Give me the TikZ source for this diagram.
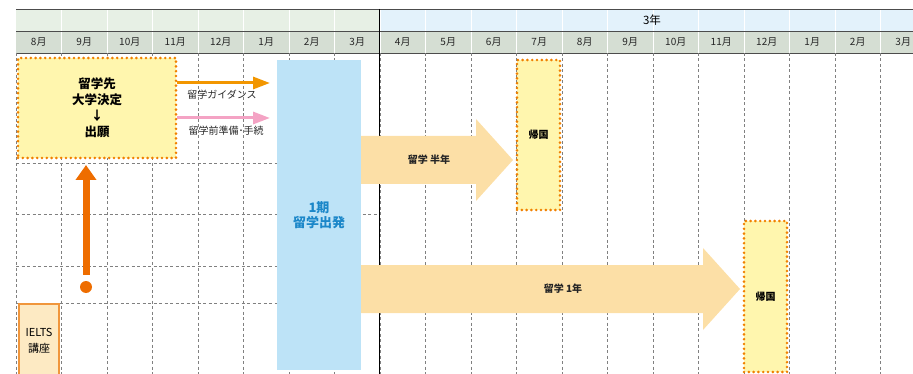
\documentclass[tikz,border=0pt]{standalone}
\usepackage{fontspec}
\setmainfont{Noto Sans CJK JP}
\usepackage{tikz}
\usetikzlibrary{arrows.meta}
\definecolor{hdrleft}{HTML}{E7F0E5}
\definecolor{hdrright}{HTML}{E3F2FB}
\definecolor{hdrmonth}{HTML}{D5DED3}
\definecolor{gridgray}{HTML}{808080}
\definecolor{planyellow}{HTML}{FFF6AE}
\definecolor{dotorange}{HTML}{F08000}
\definecolor{guideorange}{HTML}{F29600}
\definecolor{preppink}{HTML}{F4A3C4}
\definecolor{departblue}{HTML}{BDE3F7}
\definecolor{departtext}{HTML}{1B87C9}
\definecolor{riseorange}{HTML}{EE6D00}
\definecolor{ieltsfill}{HTML}{FDEAC3}
\definecolor{ieltsline}{HTML}{F0963C}
\definecolor{staypeach}{HTML}{FCDFA6}
\tikzset{
  gridline/.style={draw=gridgray, line width=0.8pt, dash pattern=on 3pt off 2.5pt},
  month/.style={font=\fontsize{10}{12}\selectfont, text=black!85},
  plan/.style={fill=planyellow, draw=dotorange, line width=2.9pt, line cap=round,
    dash pattern=on 0pt off 4.8pt, align=center, inner sep=0pt},
  guide/.style={draw=guideorange, line width=3pt, -{Triangle[length=17pt,width=12pt]}},
  prep/.style={draw=preppink, line width=3pt, -{Triangle[length=17pt,width=12pt]}},
  note/.style={font=\fontsize{10}{12}\selectfont, text=black!85},
  depart/.style={fill=departblue, text=departtext, align=center, inner sep=0pt,
    font=\fontsize{13}{15.5}\selectfont\bfseries},
  stay/.style={fill=staypeach},
  staylab/.style={font=\fontsize{10}{12}\selectfont\bfseries, text=black!85},
  rise/.style={draw=riseorange, line width=7pt, -{Triangle[length=15pt,width=20pt]}},
  ielts/.style={fill=ieltsfill, draw=ieltsline, line width=1.2pt, align=center,
    inner sep=0pt, font=\fontsize{11}{16}\selectfont},
}
\begin{document}
\begin{tikzpicture}[x=1pt,y=-1pt]
  \def\cw{45.5}
  \clip (0,0) rectangle (913,374);
  % header rows
  \fill[hdrleft] (16,9) rectangle (379,31);
  \fill[hdrright] (379,9) rectangle (926,31);
  \fill[hdrmonth] (16,31) rectangle (926,53);
  \foreach \i in {1,...,19}
    \draw[white, line width=0.6pt] ({16+\cw*\i},9) -- ({16+\cw*\i},53);
  \draw[black!70, line width=0.8pt] (16,9) -- (926,9) (16,31) -- (926,31) (16,53) -- (926,53);
  \foreach \m [count=\i from 0] in {8,9,10,11,12,1,2,3,4,5,6,7,8,9,10,11,12,1,2,3}
    \node[month] (m\i) at ({16+\cw*(\i+0.5)},42) {\m{}月};
  \node[font=\fontsize{11.5}{13}\selectfont] (nen3) at (652,20) {3年};

  % grid
  \foreach \i in {0,...,19}
    \draw[gridline] ({16+\cw*\i},53) -- ({16+\cw*\i},374);
  \foreach \y in {163,214,266,303}
    \draw[gridline] (16,\y) -- (379,\y);
  \draw[line width=0.9pt] (379,9) -- (379,374);

  % first year
  \node[plan, minimum width=158pt, minimum height=100pt,
    font=\fontsize{12.5}{16}\selectfont\bfseries] (kettei) at (97,108) {留学先\\大学決定\\↓\\出願};
  \coordinate (gEnd) at (270,83);
  \coordinate (pEnd) at (270,118);
  \draw[guide] (kettei.east |- gEnd) -- (gEnd);
  \draw[prep] (kettei.east |- pEnd) -- (pEnd);
  \node[note] (guideTxt) at (222,95) {留学ガイダンス};
  \node[note] (prepTxt) at (226,131) {留学前準備･手続};
  \node[depart, minimum width=84pt, minimum height=310pt] (shuppatsu) at (319,215) {1期\\留学出発};

  \node[circle, fill=riseorange, minimum size=12pt, inner sep=0pt] (dot) at (86,287) {};
  \coordinate (tipA) at (86,165);
  \draw[rise, shorten <=6pt] (dot) -- (tipA);
  \node[ielts, minimum width=40pt, minimum height=74pt] (ielts) at (39,341) {IELTS\\講座};

  % stays abroad
  \foreach \nm/\xa/\xb/\yc/\xt/\txt in {hannen/361/513/160/429/留学 半年,ichinen/361/740/289/563/留学 1年}{
    \fill[stay] (\xa,\yc-24) -- (\xb-37,\yc-24) -- (\xb-37,\yc-41) -- (\xb,\yc)
      -- (\xb-37,\yc+41) -- (\xb-37,\yc+24) -- (\xa,\yc+24) -- cycle;
    \node[staylab] (\nm) at (\xt,\yc) {\txt};
  }
  \node[plan, minimum width=43pt, minimum height=150pt, font=\fontsize{10}{12}\selectfont\bfseries] (kikoku1) at (538.5,135) {帰国};
  \node[plan, minimum width=43pt, minimum height=151pt, font=\fontsize{10}{12}\selectfont\bfseries] (kikoku2) at (765.5,296.5) {帰国};
\end{tikzpicture}
\end{document}
